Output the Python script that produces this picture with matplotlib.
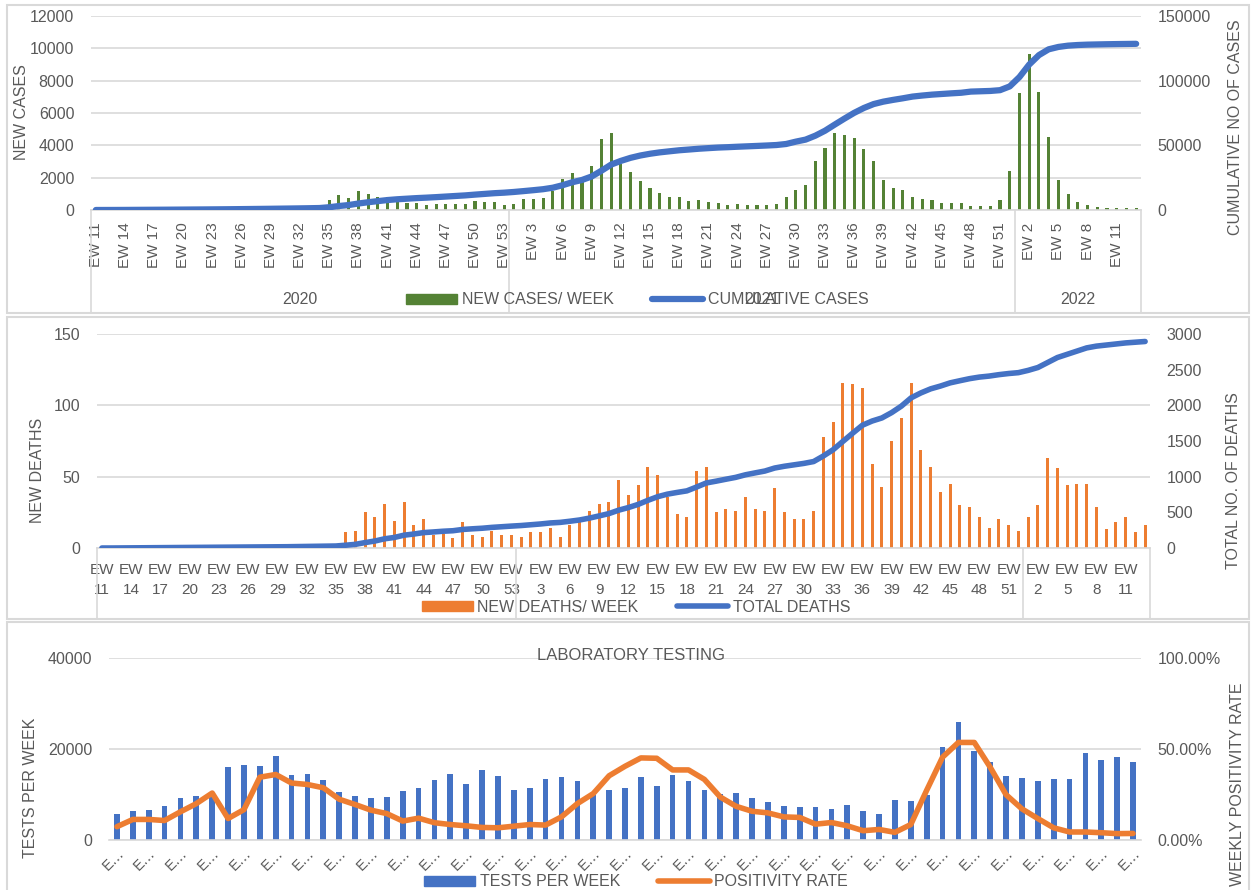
import matplotlib
matplotlib.use("Agg")
import matplotlib.pyplot as plt
import matplotlib.transforms as mtransforms
from matplotlib.patches import Rectangle, Patch
from matplotlib.lines import Line2D

# -----------------------------
# Data
# -----------------------------
weeks_2020 = list(range(11, 54))
weeks_2021 = list(range(1, 53))
weeks_2022 = list(range(1, 14))
years = ["2020", "2021", "2022"]

new_cases = [5, 15, 20, 30, 40, 40, 40, 40, 50, 50, 50, 50, 60, 60, 70, 80, 80, 80, 90, 100, 100, 110, 120, 140,
             620, 930, 760, 1175, 990, 825, 825, 580, 410, 410, 330, 350, 390, 390, 390, 560, 470, 470, 290,
             370, 660, 700, 760, 1150, 1920, 2310, 1750, 2720, 4410, 4780, 2850, 2370, 1790, 1360, 1070, 825,
             800, 580, 600, 470, 450,
             290, 350, 310, 310, 330, 370, 800, 1215, 1565, 3025, 3850, 4750, 4630, 4445, 3765, 3025, 1870,
             1360, 1215, 800, 700, 620, 450, 450, 410, 270, 250, 250, 600,
             2410, 7245, 9650, 7285, 4490, 1830, 1010, 490, 290, 165, 145, 125, 100, 100]

cumulative_cases = [5, 20, 40, 70, 110, 150, 190, 230, 280, 330, 380, 430, 490, 550, 620, 700, 780, 860, 950,
                    1050, 1150, 1260, 1380, 1520,
                    2140, 3070, 3830, 5010, 6000, 6850, 7700, 8300, 8750, 9200, 9550, 9950, 10400, 10850,
                    11300, 11900, 12450, 13000, 13400,
                    13950, 14620, 15320, 16080, 17230, 19150, 21460, 23210, 25930, 30340, 35120, 37970,
                    40340, 42130, 43490, 44560, 45380, 46180, 46760, 47360, 47830, 48280, 48570, 48920,
                    49230, 49540, 49870, 50240, 51040,
                    52860, 54420, 57450, 61300, 66050, 70680, 75120, 78890, 81910, 83780, 85140, 86360,
                    87700, 88500, 89200, 89700, 90200, 90650, 91550, 91800, 92050, 92650,
                    95570, 102810, 112460, 119750, 124240, 126070, 127080, 127570, 127860, 128020,
                    128170, 128290, 128390, 128490]

new_deaths = [0] * 25 + [
    11, 12, 25, 22, 31, 19, 32, 16, 20, 9, 10, 7, 18, 9, 8, 12, 9, 9, 8, 11,
    11, 14, 8, 16, 18, 26, 31, 32, 48, 37, 44, 57, 51, 36, 24, 22, 54, 57, 25, 27,
    26, 36, 27, 26, 42, 25, 20, 20, 26, 78, 88, 116, 115, 112, 59, 43, 75, 91, 116, 69,
    57, 39, 45, 30, 29, 22, 14, 20, 16, 12, 22, 30, 63, 56, 44, 45, 45, 29, 13, 18,
    22, 11, 16]

total_deaths = [0, 0, 1, 2, 3, 4, 5, 6, 7, 8, 9, 10, 11, 12, 13, 14, 15, 16, 17, 18, 20, 22, 24, 26, 28,
                39, 51, 76, 98, 129, 148, 180, 196, 216, 225, 235, 242, 260, 269, 277, 289, 298, 307,
                315, 326, 337, 351, 359, 375, 393, 419, 450, 482, 530, 567, 611, 668, 719, 755, 779,
                801, 855, 912, 937, 964,
                990, 1026, 1053, 1079, 1121, 1146, 1166, 1186, 1212, 1290, 1378, 1494, 1609, 1721,
                1780, 1823, 1898, 1989, 2105, 2174, 2231, 2270, 2315, 2345, 2374, 2396, 2410, 2430,
                2446, 2458, 2490, 2530, 2600, 2670, 2715, 2760, 2805, 2830, 2845, 2860, 2875, 2885, 2895]

tests_per_week = [5670, 6470, 6690, 7420, 9160, 9600, 10200, 16140, 16580, 16360,
                  18540, 14320, 14610, 13230, 10610, 9740, 9230, 9520, 10760, 11340,
                  13090, 14540, 12210, 15490, 13960, 11050, 11340, 13300, 13740, 13010,
                  10000, 11050, 11490, 13890, 11920, 14250, 12940, 11050, 10030, 10400,
                  9160, 8360, 7560, 7340, 7340, 6910, 7780, 6400, 5820, 8720,
                  8510, 10000, 20500, 26030, 19490, 17160, 14100, 13530, 13010, 13380,
                  13450, 19120, 17670, 18320, 17230]

positivity_pct = [7.3, 11.3, 11.3, 10.7, 15.5, 20.0, 25.8, 11.8, 16.7, 34.5,
                  36.0, 31.3, 30.5, 28.7, 22.4, 19.5, 16.4, 14.5, 10.4, 12.0,
                  9.5, 8.5, 7.8, 6.9, 6.7, 7.6, 8.5, 8.2, 12.7, 20.0,
                  25.5, 35.3, 40.5, 45.1, 44.9, 38.5, 38.5, 33.3, 23.6, 18.5,
                  15.8, 14.9, 12.7, 12.4, 8.7, 9.6, 7.8, 5.1, 5.8, 4.2,
                  8.5, 27.3, 45.5, 53.6, 53.6, 40.0, 24.9, 17.1, 11.8, 6.7,
                  4.4, 4.4, 4.0, 3.5, 3.6]

# -----------------------------
# Style
# -----------------------------
plt.rcParams['font.family'] = ['Liberation Sans', 'DejaVu Sans']
TXT = '#595959'
GRID = '#D9D9D9'
GREEN = '#548235'
BLUE = '#4472C4'
ORANGE = '#ED7D31'
FS = 11.5
XFS = 11

W, H = 1252, 890
fig = plt.figure(figsize=(W / 100, H / 100), dpi=100)


def px_axes(left, top, right, bottom):
    return fig.add_axes([left / W, 1 - bottom / H, (right - left) / W, (bottom - top) / H])


def fig_text(x, y, s, **kw):
    kw.setdefault('color', TXT)
    kw.setdefault('fontsize', FS)
    fig.text(x / W, 1 - y / H, s, ha='center', va='center', **kw)


def style_axes(ax):
    for s in ['top', 'right', 'left']:
        ax.spines[s].set_visible(False)
    ax.spines['bottom'].set_color(GRID)
    ax.spines['bottom'].set_linewidth(1.2)
    ax.yaxis.grid(True, color=GRID, lw=1.2)
    ax.set_axisbelow(True)
    ax.tick_params(length=0, labelcolor=TXT)
    ax.tick_params(axis='y', labelsize=FS, pad=12)
    ax.tick_params(axis='x', labelsize=XFS)


def style_twin(ax):
    for s in ax.spines.values():
        s.set_visible(False)
    ax.tick_params(length=0, labelsize=FS, labelcolor=TXT, pad=12)


# panel frames
for top, bottom in [(5, 313), (317, 619), (622, 892)]:
    fig.patches.append(Rectangle((7 / W, 1 - bottom / H), (1249 - 7) / W, (bottom - top) / H,
                                 transform=fig.transFigure, fill=False, edgecolor=GRID, lw=1.5))

week_nums = weeks_2020 + weeks_2021 + weeks_2022
n = len(week_nums)
x = list(range(n))
bounds = [-0.5, len(weeks_2020) - 0.5, len(weeks_2020) + len(weeks_2021) - 0.5, n - 0.5]

legend_kw = dict(loc='center', ncol=2, frameon=False, fontsize=FS, labelcolor=TXT, handlelength=3.2,
                 handleheight=0.6, handletextpad=0.3, columnspacing=2.4)

# -----------------------------
# Panel 1 - new cases / cumulative cases
# -----------------------------
ax1 = px_axes(91, 16, 1141, 210)
ax1.bar(x, new_cases, width=0.32, color=GREEN)
ax1.set_xlim(-0.5, n - 0.5)
ax1.set_ylim(0, 12000)
ax1.set_yticks(range(0, 12001, 2000))
style_axes(ax1)
ax1.set_xticks(x[::3])
ax1.set_xticklabels([f"EW {w}" for w in week_nums[::3]], rotation=90)
ax1.tick_params(axis='x', pad=9)

ax1b = ax1.twinx()
ax1b.plot(x, cumulative_cases, color=BLUE, lw=4.5, solid_capstyle='round')
ax1b.set_ylim(0, 150000)
ax1b.set_yticks([0, 50000, 100000, 150000])
style_twin(ax1b)

trans1 = mtransforms.blended_transform_factory(ax1.transData, ax1.transAxes)
for b in bounds:
    ax1.plot([b, b], [0, -(313 - 210) / 194], transform=trans1, color=GRID, lw=1.2, clip_on=False)
for i, yr in enumerate(years):
    ax1.text((bounds[i] + bounds[i + 1]) / 2, -(300 - 210) / 194, yr, transform=trans1,
             ha='center', va='center', fontsize=FS, color=TXT)

fig.legend([Patch(color=GREEN), Line2D([], [], color=BLUE, lw=4.5, solid_capstyle='round')],
           ["NEW CASES/ WEEK", "CUMULATIVE CASES"], bbox_to_anchor=(637 / W, 1 - 300 / H), **legend_kw)

fig_text(22, 112, "NEW CASES", rotation=90)
fig_text(1236, 127, "CUMULATIVE NO OF CASES", rotation=90)

# -----------------------------
# Panel 2 - new deaths / total deaths
# -----------------------------
ax2 = px_axes(97, 334, 1150, 548)
ax2.bar(x, new_deaths, width=0.32, color=ORANGE)
ax2.set_xlim(-0.5, n - 0.5)
ax2.set_ylim(0, 150)
ax2.set_yticks([0, 50, 100, 150])
style_axes(ax2)
ax2.set_xticks(x[::3])
ax2.set_xticklabels([f"EW\n{w}" for w in week_nums[::3]], linespacing=1.5)
ax2.tick_params(axis='x', pad=11)

ax2b = ax2.twinx()
ax2b.plot(x, total_deaths, color=BLUE, lw=4, solid_capstyle='round')
ax2b.set_ylim(0, 3000)
ax2b.set_yticks(range(0, 3001, 500))
style_twin(ax2b)

trans2 = mtransforms.blended_transform_factory(ax2.transData, ax2.transAxes)
for b in bounds:
    ax2.plot([b, b], [0, -(619 - 548) / 214], transform=trans2, color=GRID, lw=1.2, clip_on=False)

fig.legend([Patch(color=ORANGE), Line2D([], [], color=BLUE, lw=4, solid_capstyle='round')],
           ["NEW DEATHS/ WEEK", "TOTAL DEATHS"], bbox_to_anchor=(636 / W, 1 - 607 / H), **legend_kw)

fig_text(38, 470, "NEW DEATHS", rotation=90)
fig_text(1233, 481, "TOTAL NO. OF DEATHS", rotation=90)

# -----------------------------
# Panel 3 - laboratory testing
# -----------------------------
xt = list(range(len(tests_per_week)))
ax3 = px_axes(109, 658, 1141, 840)
ax3.bar(xt, tests_per_week, width=0.36, color=BLUE)
ax3.set_xlim(-0.5, len(xt) - 0.5)
ax3.set_ylim(0, 40000)
ax3.set_yticks([0, 20000, 40000])
style_axes(ax3)
ax3.set_xticks(xt[::2])
ax3.set_xticklabels(["E\u2026"] * len(xt[::2]), rotation=45, ha='right', va='top', rotation_mode='anchor')
ax3.tick_params(axis='x', pad=4, labelsize=10.5)

ax3b = ax3.twinx()
ax3b.plot(xt, positivity_pct, color=ORANGE, lw=4, solid_capstyle='round', solid_joinstyle='round')
ax3b.set_ylim(0, 100)
ax3b.set_yticks([0, 50, 100])
ax3b.set_yticklabels(["0.00%", "50.00%", "100.00%"])
style_twin(ax3b)

fig_text(631, 655, "LABORATORY TESTING", fontsize=12)

fig.legend([Patch(color=BLUE), Line2D([], [], color=ORANGE, lw=4, solid_capstyle='round')],
           ["TESTS PER WEEK", "POSITIVITY RATE"], bbox_to_anchor=(636 / W, 1 - 882 / H), **legend_kw)

fig_text(31, 788, "TESTS PER WEEK", rotation=90)
fig_text(1238, 784, "WEEKLY POSITIVITY RATE", rotation=90)

fig.savefig("out.png", dpi=100)
